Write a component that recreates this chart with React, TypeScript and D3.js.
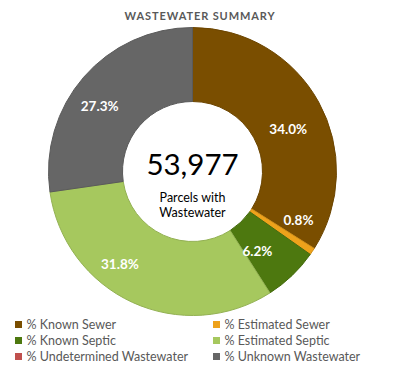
import { useMemo } from 'react';
import * as d3 from 'd3';

// ── Data ────────────────────────────────────────────────────────────────────
const CATEGORIES = [
  '% Known Sewer',
  '% Estimated Sewer',
  '% Known Septic',
  '% Estimated Septic',
  '% Undetermined Wastewater',
  '% Unknown Wastewater',
];
const VALUES = [34.0, 0.8, 6.2, 31.8, 0.0, 27.3];
const COLORS = ['#7a4e00', '#eea21b', '#4d780f', '#a6c85e', '#c0504d', '#666666'];

const TITLE = 'WASTEWATER SUMMARY';
const TOTAL = 53977;
const CENTER_LINES = ['Parcels with', 'Wastewater'];

const FONT = 'Lato, "Open Sans", sans-serif';

// label nudges (Excel shuffles small labels around a bit)
const LABEL_NUDGE: Record<string, [number, number]> = {
  '% Known Sewer': [2, 9],
  '% Estimated Sewer': [17, -11],
  '% Known Septic': [-9, 2],
  '% Estimated Septic': [-28, -4],
  '% Unknown Wastewater': [-12, 5],
};

export default function App() {
  const W = 400, H = 369;
  const cx = 192.5, cy = 171.5;
  const rOuter = 144, rInner = 70;

  const slices = useMemo(() => {
    const pie = d3.pie<number>().value(d => d).sort(null)(VALUES);
    return pie.map((p, i) => ({ ...p, name: CATEGORIES[i], color: COLORS[i] }));
  }, []);

  const arc = d3.arc<d3.PieArcDatum<number>>().innerRadius(rInner).outerRadius(rOuter);

  const legendCols = [15, 213];
  const legendRows = [324.5, 340.5, 356.5];

  return (
    <div style={{ margin: -8 }}>
      <svg width={W} height={H} viewBox={`0 0 ${W} ${H}`} style={{ display: 'block', background: '#fff' }}>
        <rect x={0.5} y={0.5} width={395} height={366} fill="#fff" stroke="#d9d9d9" strokeWidth={1} />

        <text x={200} y={19.5} textAnchor="middle" fontFamily={FONT} fontWeight={700}
          fontSize={11} letterSpacing={0.9} fill="#595959">{TITLE}</text>

        <g transform={`translate(${cx},${cy})`}>
          {slices.filter(s => s.value > 0).map(s => (
            <path key={s.name} d={arc(s) || ''} fill={s.color}
              stroke={d3.color(s.color)!.darker(0.35).toString()} strokeWidth={1} />
          ))}
          {slices.filter(s => s.value > 0).map(s => {
            const [x, y] = arc.centroid(s);
            const [dx, dy] = LABEL_NUDGE[s.name] || [0, 0];
            return (
              <text key={s.name} x={x + dx} y={y + dy} dy="0.35em" textAnchor="middle"
                fontFamily={FONT} fontWeight={700} fontSize={13.5} fill="#fff">
                {`${s.value.toFixed(1)}%`}
              </text>
            );
          })}
          <text x={0} y={3.5} textAnchor="middle" fontFamily={FONT} fontSize={29.5} fill="#000">
            {d3.format(',')(TOTAL)}
          </text>
          {CENTER_LINES.map((t, i) => (
            <text key={t} x={0} y={30 + i * 15} textAnchor="middle" fontFamily={FONT}
              fontSize={12.5} fill="#000">{t}</text>
          ))}
        </g>

        {CATEGORIES.map((c, i) => {
          const x = legendCols[i % 2];
          const y = legendRows[Math.floor(i / 2)];
          return (
            <g key={c} transform={`translate(${x},${y})`}>
              <rect x={0} y={-3.5} width={7} height={7} fill={COLORS[i]} />
              <text x={11.5} y={0} dy="0.35em" fontFamily={FONT} fontSize={12.5} fill="#595959">{c}</text>
            </g>
          );
        })}
      </svg>
    </div>
  );
}
